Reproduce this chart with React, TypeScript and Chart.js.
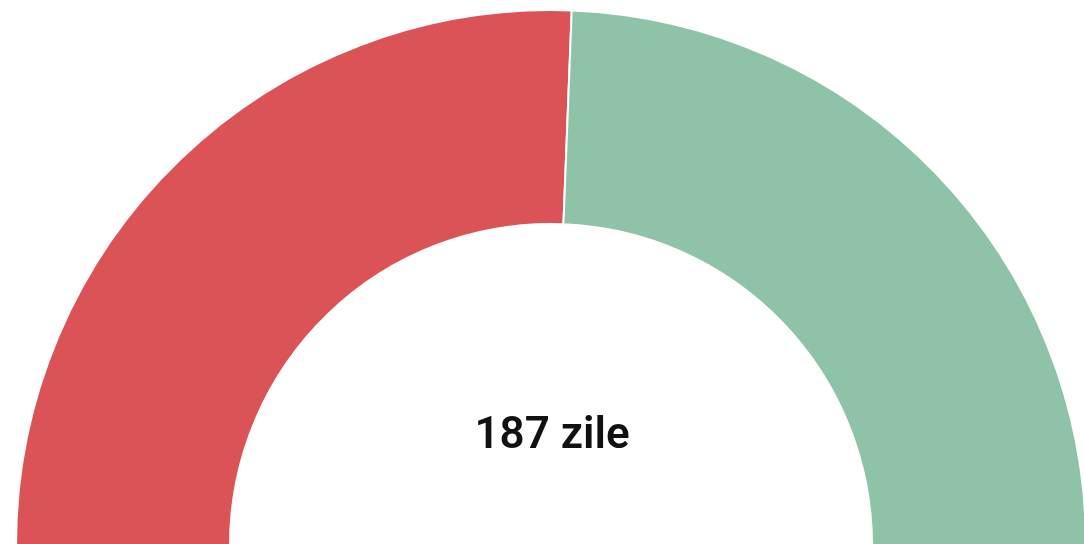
import React, { useEffect, useRef } from "react";
import { Chart, registerables } from "chart.js";

Chart.register(...registerables);

const categories = ["Zile trecute", "Zile rămase"];
const values = [187, 178];
const colors = ["#db5357", "#8fc3a8"];
const centerLabel = "187 zile";

export default function App() {
  const ref = useRef<HTMLCanvasElement | null>(null);

  useEffect(() => {
    if (!ref.current) return;
    const chart = new Chart(ref.current, {
      type: "doughnut",
      data: {
        labels: categories,
        datasets: [
          {
            data: values,
            backgroundColor: colors,
            borderColor: "#ffffff",
            borderWidth: 2,
          },
        ],
      },
      options: {
        responsive: false,
        animation: false,
        rotation: -90,
        circumference: 180,
        cutout: "60%",
        layout: { padding: 0 },
        plugins: {
          legend: { display: false },
          tooltip: { enabled: false },
        },
      },
    });
    return () => chart.destroy();
  }, []);

  return (
    <div
      style={{
        position: "fixed",
        left: 0,
        top: 0,
        width: 1084,
        height: 544,
        overflow: "hidden",
        background: "#ffffff",
      }}
    >
      <canvas
        ref={ref}
        width={1072}
        height={537}
        style={{ position: "absolute", left: 15, top: 9, width: 1072, height: 537 }}
      />
      <div
        style={{
          position: "absolute",
          left: 352,
          width: 400,
          top: 411,
          textAlign: "center",
          fontFamily: "Roboto, sans-serif",
          fontWeight: 600,
          fontSize: 44,
          lineHeight: 1,
          color: "#111111",
        }}
      >
        {centerLabel}
      </div>
    </div>
  );
}
